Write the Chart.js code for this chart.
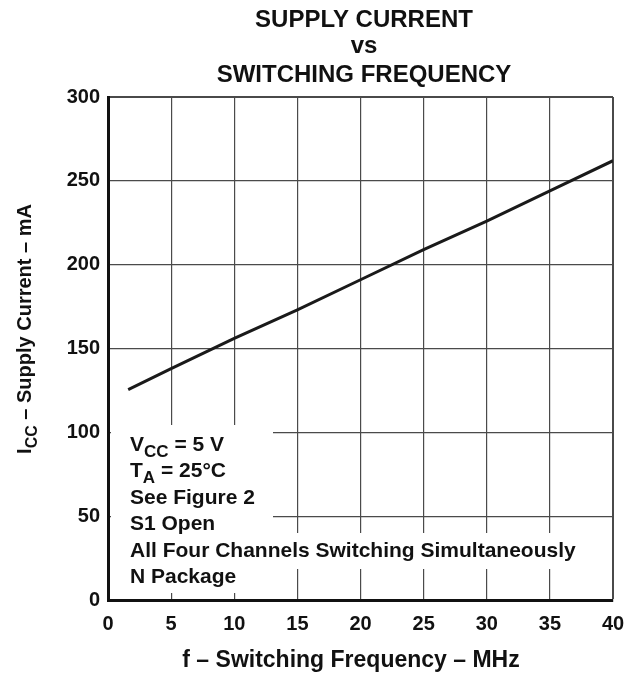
<!DOCTYPE html>
<html>
<head>
<meta charset="utf-8">
<script src="https://cdn.jsdelivr.net/npm/chart.js@4.4.1/dist/chart.umd.min.js"></script>
<style>
  html, body { margin: 0; padding: 0; background: #fff; }
  #wrap { width: 625px; height: 676px; }
</style>
</head>
<body>
<div id="wrap"><canvas id="chart"></canvas></div>
<script>
const freqMHz = [1.6, 5, 10, 15, 20, 25, 30, 35, 40];
const supplyCurrent = [125.5, 138, 156, 173, 191, 209, 226, 244, 262];
const xTicks = [0, 5, 10, 15, 20, 25, 30, 35, 40];
const yTicks = [0, 50, 100, 150, 200, 250, 300];
const titleLines = ["SUPPLY CURRENT", "vs", "SWITCHING FREQUENCY"];

const FONT = '"Liberation Sans", Arial, sans-serif';

// draws a run of [text, isSub] pieces starting at x
function drawRuns(ctx, runs, x, y, size) {
  runs.forEach(([t, sub]) => {
    ctx.font = "bold " + (sub ? Math.round(size * 0.8) : size) + "px " + FONT;
    ctx.fillText(t, x, sub ? y + size * 0.28 : y);
    x += ctx.measureText(t).width;
  });
  return x;
}
function runsWidth(ctx, runs, size) {
  let w = 0;
  runs.forEach(([t, sub]) => {
    ctx.font = "bold " + (sub ? Math.round(size * 0.8) : size) + "px " + FONT;
    w += ctx.measureText(t).width;
  });
  return w;
}

const notes = [
  [["V", false], ["CC", true], [" = 5 V", false]],
  [["T", false], ["A", true], [" = 25°C", false]],
  [["See Figure 2", false]],
  [["S1 Open", false]],
  [["All Four Channels Switching Simultaneously", false]],
  [["N Package", false]]
];

const textPlugin = {
  id: "texts",
  beforeDatasetsDraw(chart) {
    const ctx = chart.ctx;
    ctx.save();
    ctx.fillStyle = "#fff";
    // white patches behind the note lines
    ctx.fillRect(111, 425, 162, 109);
    ctx.fillRect(111, 533, 472, 36);
    ctx.fillRect(111, 568, 134, 25);
    ctx.restore();
  },
  afterDraw(chart) {
    const ctx = chart.ctx;
    ctx.save();
    ctx.fillStyle = "#111";
    ctx.textBaseline = "alphabetic";
    ctx.textAlign = "center";
    ctx.font = "bold 24px " + FONT;
    [27, 53, 82].forEach((y, i) => ctx.fillText(titleLines[i], 364, y));

    ctx.textAlign = "left";
    notes.forEach((runs, i) => drawRuns(ctx, runs, 130, 451 + i * 26.4, 21));

    // x axis title
    const xr = [["f – Switching Frequency – MHz", false]];
    const xw = runsWidth(ctx, xr, 23);
    drawRuns(ctx, xr, 351 - xw / 2, 667, 23);

    // y axis title, rotated
    const yr = [["I", false], ["CC", true], [" – Supply Current – mA", false]];
    const yw = runsWidth(ctx, yr, 20);
    ctx.translate(31, 329);
    ctx.rotate(-Math.PI / 2);
    drawRuns(ctx, yr, -yw / 2, 0, 20);
    ctx.restore();
  }
};

new Chart(document.getElementById("chart"), {
  type: "scatter",
  data: {
    datasets: [{
      data: freqMHz.map((f, i) => ({ x: f, y: supplyCurrent[i] })),
      showLine: true,
      borderColor: "#1a1a1a",
      borderWidth: 3,
      pointRadius: 0,
      tension: 0
    }]
  },
  options: {
    responsive: true,
    maintainAspectRatio: false,
    animation: false,
    layout: { padding: { top: 97, right: 12, bottom: 0, left: 0 } },
    plugins: { legend: { display: false }, tooltip: { enabled: false } },
    scales: {
      x: {
        type: "linear",
        min: 0,
        max: 40,
        afterBuildTicks: (s) => { s.ticks = xTicks.map(v => ({ value: v })); },
        afterFit: (s) => { s.height = 76; s.paddingRight = 0; s.paddingLeft = 0; },
        ticks: { color: "#111", padding: 12, font: { family: FONT, size: 20, weight: "bold" } },
        grid: {
          color: "#4a4a4a",
          lineWidth: (c) => (c.tick && c.tick.value === 40 ? 2 : 1.2),
          drawTicks: false
        },
        border: { color: "#111", width: 3 }
      },
      y: {
        min: 0,
        max: 300,
        afterBuildTicks: (s) => { s.ticks = yTicks.map(v => ({ value: v })); },
        afterFit: (s) => { s.width = 108; s.paddingTop = 0; s.paddingBottom = 0; },
        ticks: { color: "#111", padding: 8, font: { family: FONT, size: 20, weight: "bold" } },
        grid: {
          color: "#4a4a4a",
          lineWidth: (c) => (c.tick && c.tick.value === 300 ? 2 : 1.2),
          drawTicks: false
        },
        border: { color: "#111", width: 3 }
      }
    }
  },
  plugins: [textPlugin]
});
</script>
</body>
</html>
